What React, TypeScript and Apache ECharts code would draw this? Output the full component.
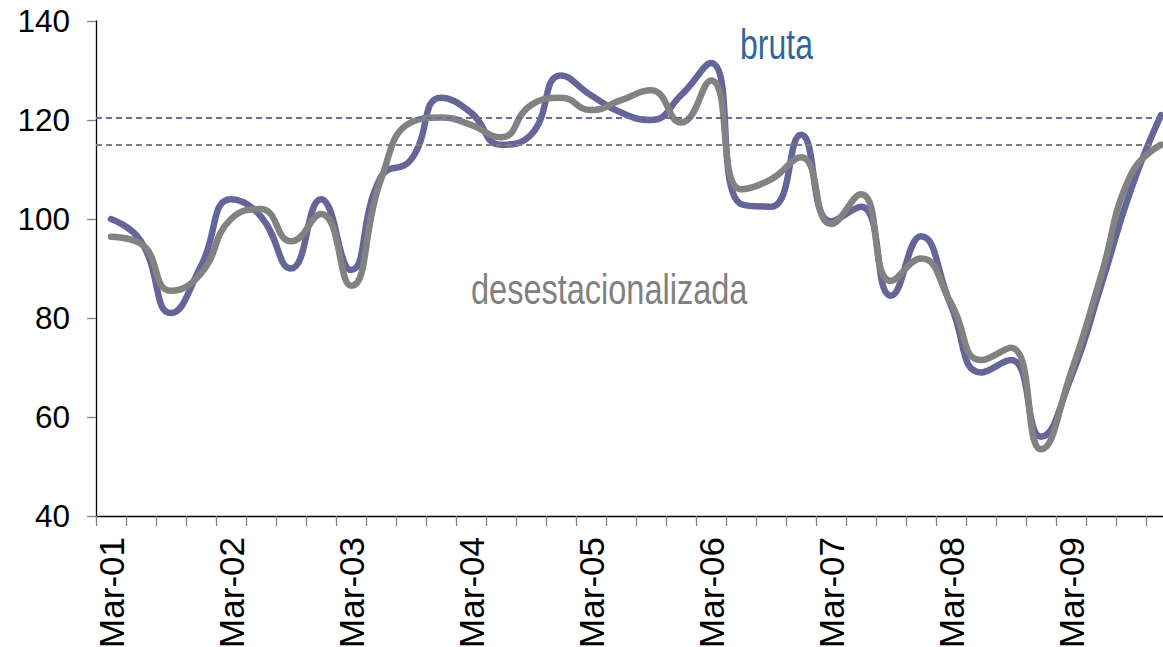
import React, { useEffect, useRef } from "react";
import * as echarts from "echarts";

const quarterMonths = ["Mar", "Jun", "Sep", "Dec"];
const years = ["01", "02", "03", "04", "05", "06", "07", "08", "09"];
const categories = years.flatMap((y) => quarterMonths.map((m) => `${m}-${y}`));

const bruta = [
  100, 95.5, 81, 90.5, 104, 100.5, 90, 104, 89.7, 108.5, 112, 124.5,
  121.5, 115, 117, 129, 125, 121.5, 120, 125, 131.5, 103, 102.5, 117,
  99.5, 102.5, 84.5, 96.5, 82.5, 69, 71.5, 56, 68, 86.5, 106, 121,
];

const desestacionalizada = [
  96.4, 95, 85.5, 89, 100, 102, 95.5, 101, 86.5, 108, 119.5, 120.5,
  119, 116.5, 123, 124.5, 122, 124, 126, 119.5, 128, 106, 108, 112.5,
  99, 105, 87.5, 92, 83, 71.5, 74, 53.5, 69, 88.5, 109, 115,
];

const yMin = 40;
const yMax = 140;
const yInterval = 20;
const brutaAverage = 120.5;
const desestAverage = 115;

const BLUE = "#65659A";
const GREY = "#828282";

export default function App() {
  const ref = useRef<HTMLDivElement>(null);
  useEffect(() => {
    document.body.style.margin = "0";
    const chart = echarts.init(ref.current!, null, { renderer: "svg" });
    chart.setOption({
      animation: false,
      backgroundColor: "#ffffff",
      textStyle: { fontFamily: "Liberation Sans" },
      grid: { left: 96, top: 21, width: 1080, height: 495, containLabel: false, outerBoundsMode: "none" },
      xAxis: {
        type: "category",
        data: categories,
        boundaryGap: true,
        axisLine: { show: true, lineStyle: { color: "#000", width: 1.3 } },
        axisTick: { show: true, interval: 0, length: 10, lineStyle: { color: "#808080", width: 1.3 } },
        axisLabel: {
          interval: 3,
          rotate: 90,
          margin: 21,
          fontSize: 35,
          color: "#000",
          fontFamily: "Liberation Sans",
        },
        splitLine: { show: false },
      },
      yAxis: {
        type: "value",
        min: yMin,
        max: yMax,
        interval: yInterval,
        axisLine: { show: true, lineStyle: { color: "#000", width: 1.3 } },
        axisTick: { show: true, length: 9, lineStyle: { color: "#808080", width: 1.3 } },
        axisLabel: { margin: 26, fontSize: 31.5, color: "#000", fontFamily: "Liberation Sans" },
        splitLine: { show: false },
      },
      graphic: [
        {
          type: "text",
          x: 740,
          y: 24,
          scaleY: 1.3,
          style: {
            text: "bruta",
            fontSize: 32,
            fontFamily: "Liberation Sans",
            fill: "#336699",
            verticalAlign: "top",
          },
        },
        {
          type: "text",
          x: 471,
          y: 268,
          scaleY: 1.3,
          style: {
            text: "desestacionalizada",
            fontSize: 32.5,
            fontFamily: "Liberation Sans",
            fill: "#808080",
            verticalAlign: "top",
          },
        },
      ],
      series: [
        {
          name: "bruta",
          type: "line",
          data: bruta,
          smooth: 0.5,
          symbol: "none",
          lineStyle: { color: BLUE, width: 6.5, cap: "round", join: "round" },
          itemStyle: { color: BLUE },
          markLine: {
            silent: true,
            symbol: "none",
            label: { show: false },
            lineStyle: { color: "#6B6B9E", type: [6, 4], width: 2 },
            data: [{ yAxis: brutaAverage }],
          },
          z: 2,
        },
        {
          name: "desestacionalizada",
          type: "line",
          data: desestacionalizada,
          smooth: 0.5,
          symbol: "none",
          lineStyle: { color: GREY, width: 6.5, cap: "round", join: "round" },
          itemStyle: { color: GREY },
          markLine: {
            silent: true,
            symbol: "none",
            label: { show: false },
            lineStyle: { color: "#808080", type: [6, 4], width: 2 },
            data: [{ yAxis: desestAverage }],
          },
          z: 3,
        },
      ],
    });
    return () => chart.dispose();
  }, []);
  return <div ref={ref} style={{ width: 1163, height: 647, overflow: "hidden" }} />;
}
